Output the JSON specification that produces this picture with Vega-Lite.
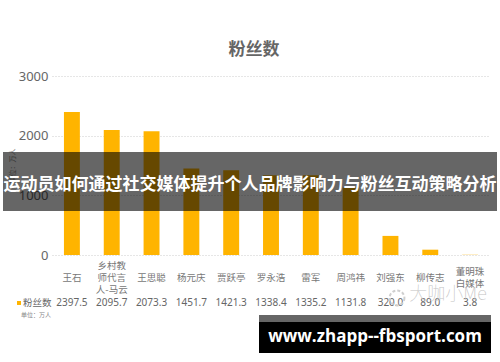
{
"$schema":"https://vega.github.io/schema/vega-lite/v6.json",
"width":438,"height":179,"autosize":"none",
"padding":{"left":52,"top":76,"right":10,"bottom":107},
"background":"white",
"config":{"view":{"stroke":null},"text":{"font":"Noto Sans CJK SC"},"axis":{"labelFont":"Noto Sans","titleFont":"Noto Sans CJK SC"}},
"datasets":{"fans":[
{"name":"王石","l1":"王石","l2":"","l3":"","value":2397.5,"shown":"2397.5"},
{"name":"乡村教师代言人-马云","l1":"","l2":"","l3":["乡村教","师代言","人-马云"],"value":2095.7,"shown":"2095.7"},
{"name":"王思聪","l1":"王思聪","l2":"","l3":"","value":2073.3,"shown":"2073.3"},
{"name":"杨元庆","l1":"杨元庆","l2":"","l3":"","value":1451.7,"shown":"1451.7"},
{"name":"贾跃亭","l1":"贾跃亭","l2":"","l3":"","value":1421.3,"shown":"1421.3"},
{"name":"罗永浩","l1":"罗永浩","l2":"","l3":"","value":1338.4,"shown":"1338.4"},
{"name":"雷军","l1":"雷军","l2":"","l3":"","value":1335.2,"shown":"1335.2"},
{"name":"周鸿祎","l1":"周鸿祎","l2":"","l3":"","value":1131.8,"shown":"1131.8"},
{"name":"刘强东","l1":"刘强东","l2":"","l3":"","value":320,"shown":"320.0"},
{"name":"柳传志","l1":"柳传志","l2":"","l3":"","value":89,"shown":"89.0"},
{"name":"董明珠自媒体","l1":"","l2":["董明珠","白媒体"],"l3":"","value":3.8,"shown":"3.8"}
],"one":[{"k":1}]},
"resolve":{"scale":{"x":"independent"}},
"layer":[
{"data":{"name":"fans"},"mark":{"type":"bar","color":"#FFB400"},
 "encoding":{
  "x":{"field":"name","type":"nominal","sort":null,"axis":null,"scale":{"paddingInner":0.6,"paddingOuter":0.3}},
  "y":{"field":"value","type":"quantitative","scale":{"domain":[0,3000],"nice":false},
   "axis":{"values":[0,500,1000,1500,2000,2500,3000],"format":"d","labelOverlap":false,"grid":true,"gridDash":[1,2],"gridColor":"#cccccc","domain":false,"ticks":false,"labelFontSize":13,"labelColor":"#666666","labelPadding":4,"title":"单位：万人","titleFontSize":7,"titleColor":"#888888","titleFontWeight":"normal","titlePadding":3}}}},
{"data":{"name":"fans"},"mark":{"type":"text","fontSize":9.5,"color":"#777777","baseline":"middle","lineHeight":12},
 "encoding":{"x":{"field":"name","type":"nominal","sort":null,"axis":null,"scale":{"paddingInner":0.6,"paddingOuter":0.3}},"y":{"datum":-385,"type":"quantitative"},"text":{"field":"l1"}}},
{"data":{"name":"fans"},"mark":{"type":"text","fontSize":9.5,"color":"#777777","baseline":"middle","lineHeight":12},
 "encoding":{"x":{"field":"name","type":"nominal","sort":null,"axis":null,"scale":{"paddingInner":0.6,"paddingOuter":0.3}},"y":{"datum":-285,"type":"quantitative"},"text":{"field":"l2"}}},
{"data":{"name":"fans"},"mark":{"type":"text","fontSize":9.5,"color":"#777777","baseline":"middle","lineHeight":12},
 "encoding":{"x":{"field":"name","type":"nominal","sort":null,"axis":null,"scale":{"paddingInner":0.6,"paddingOuter":0.3}},"y":{"datum":-184,"type":"quantitative"},"text":{"field":"l3"}}},
{"data":{"name":"fans"},"mark":{"type":"text","fontSize":10,"font":"Noto Sans","color":"#666666","baseline":"middle"},
 "encoding":{"x":{"field":"name","type":"nominal","sort":null,"axis":null,"scale":{"paddingInner":0.6,"paddingOuter":0.3}},"y":{"datum":-804,"type":"quantitative"},"text":{"field":"shown"}}},
{"data":{"name":"one"},"mark":{"type":"text","fontSize":17,"fontWeight":"bold","color":"#666666","baseline":"middle"},
 "encoding":{"x":{"datum":202,"type":"quantitative","scale":{"domain":[0,438]},"axis":null},"y":{"datum":3436,"type":"quantitative"},"text":{"value":"粉丝数"}}},
{"data":{"name":"one"},"mark":{"type":"square","color":"#FFB400","size":16,"opacity":1},
 "encoding":{"x":{"datum":-33,"type":"quantitative","scale":{"domain":[0,438]},"axis":null},"y":{"datum":-804,"type":"quantitative"}}},
{"data":{"name":"one"},"mark":{"type":"text","fontSize":9.5,"color":"#666666","align":"left","baseline":"middle"},
 "encoding":{"x":{"datum":-29,"type":"quantitative","scale":{"domain":[0,438]},"axis":null},"y":{"datum":-804,"type":"quantitative"},"text":{"value":"粉丝数"}}},
{"data":{"name":"one"},"mark":{"type":"text","fontSize":6,"color":"#888888","baseline":"middle"},
 "encoding":{"x":{"datum":-16,"type":"quantitative","scale":{"domain":[0,438]},"axis":null},"y":{"datum":-1006,"type":"quantitative"},"text":{"value":"单位：万人"}}},
{"data":{"name":"one"},"mark":{"type":"point","size":220,"stroke":"#cfcfcf","strokeDash":[3,2],"filled":false,"opacity":1},
 "encoding":{"x":{"datum":345,"type":"quantitative","scale":{"domain":[0,438]},"axis":null},"y":{"datum":-720,"type":"quantitative"}}},
{"data":{"name":"one"},"mark":{"type":"text","fontSize":18,"fontWeight":"lighter","color":"#c4c4c4","baseline":"middle"},
 "encoding":{"x":{"datum":396,"type":"quantitative","scale":{"domain":[0,438]},"axis":null},"y":{"datum":-670,"type":"quantitative"},"text":{"value":"大咖小Me"}}},
{"data":{"name":"one"},"mark":{"type":"rect","color":"#000000","opacity":0.6},
 "encoding":{"x":{"datum":-49,"type":"quantitative","scale":{"domain":[0,438]},"axis":null},"x2":{"datum":445},"y":{"datum":1726,"type":"quantitative"},"y2":{"datum":737}}},
{"data":{"name":"one"},"mark":{"type":"text","fontSize":17,"fontWeight":"bold","color":"#ffffff","baseline":"middle"},
 "encoding":{"x":{"datum":198,"type":"quantitative","scale":{"domain":[0,438]},"axis":null},"y":{"datum":1173,"type":"quantitative"},"text":{"value":"运动员如何通过社交媒体提升个人品牌影响力与粉丝互动策略分析"}}},
{"data":{"name":"one"},"mark":{"type":"rect","color":"#666666"},
 "encoding":{"x":{"datum":207,"type":"quantitative","scale":{"domain":[0,438]},"axis":null},"x2":{"datum":439},"y":{"datum":-1006,"type":"quantitative"},"y2":{"datum":-1123}}},
{"data":{"name":"one"},"mark":{"type":"rect","color":"#000000"},
 "encoding":{"x":{"datum":207,"type":"quantitative","scale":{"domain":[0,438]},"axis":null},"x2":{"datum":439},"y":{"datum":-1123,"type":"quantitative"},"y2":{"datum":-1642}}},
{"data":{"name":"one"},"mark":{"type":"text","fontSize":17,"fontWeight":"bold","font":"Open Sans","color":"#ffffff","baseline":"middle"},
 "encoding":{"x":{"datum":323,"type":"quantitative","scale":{"domain":[0,438]},"axis":null},"y":{"datum":-1374,"type":"quantitative"},"text":{"value":"www.zhapp--fbsport.com"}}}
]}
